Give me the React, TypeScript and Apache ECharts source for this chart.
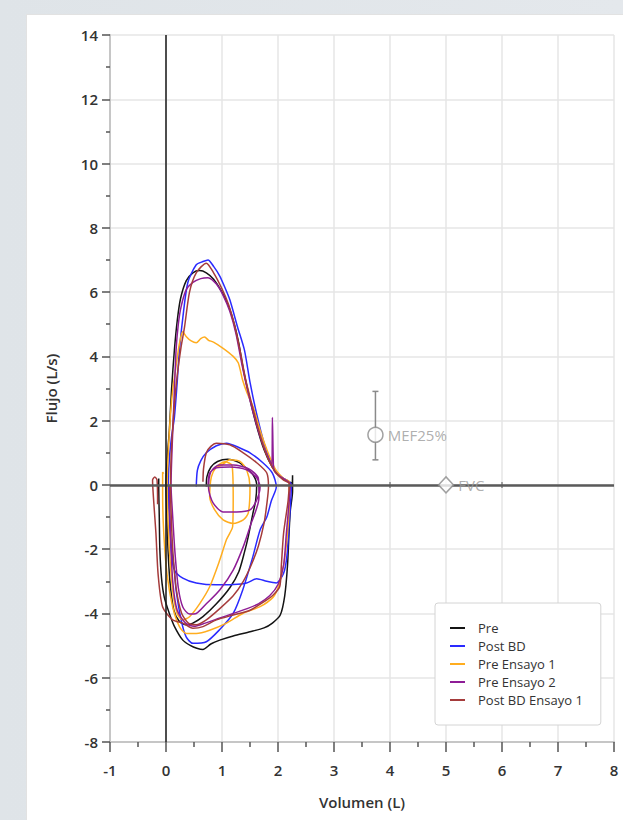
import React, { useEffect, useRef } from 'react';
import * as echarts from 'echarts';

// ---- Data (volume L, flow L/s) ----
const seriesNames = ['Pre', 'Post BD', 'Pre Ensayo 1', 'Pre Ensayo 2', 'Post BD Ensayo 1'];
const seriesColors = ['#141414', '#2a2aff', '#ffad1f', '#8e1d96', '#a53b3b'];

const preCurve = [
  [0.72, -0.05], [0.73, 0.25], [0.8, 0.55], [0.92, 0.73], [1.1, 0.8], [1.3, 0.7], [1.45, 0.5], [1.56, 0.3], [1.62, 0.02],
  [1.6, -0.5], [1.55, -0.9], [1.47, -1.6], [1.4, -2.1], [1.3, -2.7], [1.14, -3.2], [0.9, -3.7], [0.66, -4.1], [0.48, -4.3], [0.36, -4.35], [0.24, -4.25], [0.14, -3.9], [0.07, -3.0], [0.03, -1.8], [0.01, -0.6], [0.0, 0],
  [0.02, 0.8], [0.06, 1.7], [0.1, 3.0], [0.15, 4.2], [0.2, 5.1], [0.26, 5.8], [0.36, 6.35], [0.48, 6.6], [0.6, 6.67], [0.72, 6.6], [0.85, 6.4], [1.0, 6.0], [1.12, 5.55], [1.22, 5.0], [1.3, 4.4], [1.38, 3.6], [1.48, 2.8], [1.6, 1.95], [1.75, 1.1], [1.9, 0.55], [2.05, 0.25], [2.18, 0.12], [2.25, 0.05], [2.26, 0.3],
  [2.26, -0.2], [2.22, -0.8], [2.2, -1.4], [2.17, -2.5], [2.12, -3.45], [2.04, -4.05], [1.9, -4.3], [1.75, -4.45], [1.5, -4.57], [1.2, -4.7], [0.96, -4.83], [0.8, -4.95], [0.66, -5.12], [0.55, -5.08], [0.44, -5.0], [0.3, -4.83], [0.15, -4.4], [0.06, -4.0], [-0.03, -3.5], [-0.08, -2.9], [-0.11, -2.0], [-0.12, -1.0], [-0.13, 0.0], [-0.13, 0.2],
];

const postBdCurve = [
  [0.54, -0.05], [0.56, 0.45], [0.62, 0.75], [0.72, 1.0], [0.9, 1.22], [1.08, 1.3], [1.32, 1.15], [1.5, 1.0], [1.73, 0.69], [1.9, 0.37], [1.97, -0.06],
  [1.88, -0.5], [1.8, -1.0], [1.68, -1.4], [1.55, -2.24], [1.37, -3.27], [1.2, -4.0], [0.96, -4.5], [0.72, -4.88], [0.48, -4.93], [0.36, -4.73], [0.27, -4.2], [0.18, -3.27], [0.15, -2.65], [0.1, -2.0], [0.06, -1.0], [0.04, 0],
  [0.06, 0.8], [0.1, 1.5], [0.15, 2.1], [0.2, 3.2], [0.24, 4.2], [0.3, 5.2], [0.39, 6.3], [0.54, 6.85], [0.66, 6.95], [0.75, 7.0], [0.85, 6.8], [0.96, 6.5], [1.05, 6.15], [1.14, 5.76], [1.28, 4.9], [1.4, 4.2], [1.5, 3.2], [1.62, 2.2], [1.76, 1.25], [1.92, 0.55], [2.08, 0.22], [2.2, 0.1], [2.24, 0.0],
  [2.23, -0.4], [2.2, -1.2], [2.16, -2.2], [2.1, -2.75], [1.97, -3.05], [1.8, -3.0], [1.62, -2.92], [1.44, -3.05], [1.2, -3.1], [0.9, -3.11], [0.54, -3.05], [0.3, -2.9], [0.15, -2.65], [0.1, -2.2], [0.06, -1.1], [0.03, 0],
];

const preE1Curve = [
  [0.9, 0.56], [1.0, 0.62], [1.14, 0.78], [1.32, 0.73], [1.44, 0.47], [1.5, -0.06], [1.47, -0.87], [1.38, -1.09], [1.2, -1.2], [1.02, -1.09], [0.87, -0.78], [0.78, -0.37], [0.81, 0.25], [0.9, 0.56], [1.05, 0.72], [1.18, 0.6], [1.2, -0.4], [1.19, -1.3],
  [1.14, -1.5], [1.08, -1.7], [0.96, -2.34], [0.78, -3.17], [0.6, -3.7], [0.42, -4.1], [0.3, -4.2], [0.2, -4.0], [0.12, -3.3], [0.06, -2.0], [0.03, -0.8], [0.02, 0],
  [0.04, 1.0], [0.08, 2.2], [0.12, 2.96], [0.18, 3.7], [0.24, 4.4], [0.3, 4.77], [0.36, 4.62], [0.45, 4.48], [0.54, 4.42], [0.62, 4.55], [0.69, 4.6], [0.76, 4.5], [0.84, 4.45], [1.02, 4.25], [1.2, 4.0], [1.29, 3.8], [1.37, 3.25], [1.45, 2.85], [1.56, 2.4], [1.68, 1.7], [1.8, 1.1], [1.95, 0.5], [2.1, 0.2], [2.2, 0.1],
  [2.2, -0.5], [2.17, -1.5], [2.1, -2.5], [2.0, -3.2], [1.91, -3.5], [1.68, -3.79], [1.37, -4.0], [1.08, -4.3], [0.78, -4.52], [0.54, -4.62], [0.36, -4.62], [0.24, -4.41], [0.12, -3.8], [0.02, -2.8], [-0.04, -1.5], [-0.06, -0.3], [-0.06, 0.4], [-0.04, 0.35],
];

const preE2Curve = [
  [0.75, -0.06], [0.78, 0.37], [0.9, 0.53], [1.14, 0.56], [1.44, 0.47], [1.62, 0.22], [1.68, -0.06], [1.62, -0.47], [1.5, -0.78], [1.26, -0.84], [1.02, -0.84], [0.84, -0.56], [0.76, -0.1], [0.8, 0.4], [0.95, 0.62], [1.2, 0.62], [1.48, 0.5], [1.65, 0.2], [1.66, -0.4],
  [1.5, -1.3], [1.38, -1.92], [1.2, -2.65], [0.96, -3.27], [0.72, -3.7], [0.54, -4.0], [0.42, -4.02], [0.3, -3.8], [0.22, -3.2], [0.16, -2.1], [0.12, -1.0], [0.09, 0],
  [0.11, 1.2], [0.14, 2.5], [0.18, 4.2], [0.22, 5.0], [0.27, 5.55], [0.36, 6.07], [0.48, 6.3], [0.62, 6.42], [0.75, 6.45], [0.9, 6.25], [1.02, 5.9], [1.14, 5.4], [1.25, 4.7], [1.35, 3.8], [1.45, 3.0], [1.58, 2.1], [1.72, 1.3], [1.85, 0.75], [1.89, 0.6], [1.9, 2.1], [1.915, 0.8], [1.93, 0.45], [2.05, 0.25], [2.18, 0.1], [2.22, 0.0],
  [2.2, -0.5], [2.15, -1.5], [2.1, -2.5], [2.0, -3.1], [1.85, -3.45], [1.65, -3.7], [1.45, -3.85], [1.2, -4.0], [0.95, -4.15], [0.7, -4.3], [0.5, -4.4], [0.35, -4.3], [0.2, -3.9], [0.12, -3.0], [0.08, -1.5], [0.06, 0],
];

const postBdE1Curve = [
  [0.66, 0.1], [0.67, 0.5], [0.72, 1.0], [0.8, 1.2], [0.9, 1.3], [1.14, 1.25], [1.38, 1.0], [1.62, 0.69], [1.8, 0.37], [1.83, -0.06],
  [1.8, -0.6], [1.75, -1.2], [1.65, -1.9], [1.52, -2.5], [1.38, -3.0], [1.2, -3.45], [0.96, -3.85], [0.72, -4.2], [0.54, -4.35], [0.4, -4.3], [0.28, -4.0], [0.18, -3.2], [0.12, -2.0], [0.09, -0.8], [0.08, 0],
  [0.1, 1.2], [0.15, 2.5], [0.2, 3.4], [0.27, 4.3], [0.33, 4.9], [0.42, 6.0], [0.54, 6.6], [0.72, 6.9], [0.85, 6.6], [1.0, 6.1], [1.12, 5.6], [1.22, 5.0], [1.32, 4.2], [1.42, 3.3], [1.52, 2.6], [1.64, 1.8], [1.78, 1.0], [1.95, 0.4], [2.1, 0.15], [2.2, 0.05],
  [2.18, -0.5], [2.1, -1.5], [2.06, -2.5], [2.03, -3.17], [1.9, -3.45], [1.8, -3.58], [1.5, -3.9], [1.2, -4.05], [0.9, -4.2], [0.66, -4.41], [0.48, -4.46], [0.3, -4.3], [0.12, -4.2], [-0.06, -3.8], [-0.14, -2.8], [-0.18, -1.5], [-0.22, -0.5], [-0.24, 0.15], [-0.2, 0.25], [-0.16, 0.15], [-0.15, -0.6],
];

const curves = [preCurve, postBdCurve, preE1Curve, preE2Curve, postBdE1Curve];

// Reference markers
const mefName = 'MEF25%';
const mefPoint = [3.74, 1.56];
const mefRange = [0.78, 2.91];
const fvcName = 'FVC';
const fvcPoint = [5.0, 0];
const fvcRange = [4.0, 6.0];

// Axes
const xMin = -1, xMax = 8, xStep = 1;
const yMin = -8, yMax = 14, yStep = 2;

const FONT = "'Open Sans', 'DejaVu Sans', sans-serif";
const LEGEND_ICON = 'path://M0,0 L15,0 L15,2 L0,2 Z';

export default function App() {
  const ref = useRef<HTMLDivElement>(null);

  useEffect(() => {
    if (!ref.current) return;
    const chart = echarts.init(ref.current, null, { renderer: 'svg' });

    const axisLabel = { color: '#333', fontFamily: FONT, fontSize: 15, fontWeight: 600 };

    const curveSeries = curves.map((d, i) => ({
      name: seriesNames[i],
      type: 'line',
      data: d,
      showSymbol: false,
      symbol: 'none',
      smooth: 0.25,
      z: 2,
      lineStyle: { color: seriesColors[i], width: 1.5 },
      itemStyle: { color: seriesColors[i] },
      silent: true,
    }));

    const option: any = {
      animation: false,
      backgroundColor: 'transparent',
      grid: { left: 110, right: 9, top: 35, bottom: 78, containLabel: false },
      xAxis: {
        type: 'value', min: xMin, max: xMax, interval: xStep,
        name: 'Volumen (L)', nameLocation: 'middle', nameGap: 52,
        nameTextStyle: { color: '#333', fontFamily: FONT, fontSize: 15, fontWeight: 600 },
        axisLine: { show: true, onZero: false, lineStyle: { color: '#c6c6c6', width: 2 } },
        axisTick: { show: true, length: 10, lineStyle: { color: '#555', width: 1.5 } },
        minorTick: { show: true, splitNumber: 2, length: 5, lineStyle: { color: '#555', width: 1.5 } },
        axisLabel: { ...axisLabel, margin: 20 },
        splitLine: { show: true, lineStyle: { color: '#e6e6e6', width: 1.5 } },
      },
      yAxis: {
        type: 'value', min: yMin, max: yMax, interval: yStep,
        name: 'Flujo (L/s)', nameLocation: 'middle', nameGap: 52,
        nameTextStyle: { color: '#333', fontFamily: FONT, fontSize: 15, fontWeight: 600 },
        axisLine: { show: true, onZero: false, lineStyle: { color: '#c6c6c6', width: 2 } },
        axisTick: { show: true, length: 8, lineStyle: { color: '#555', width: 1.5 } },
        minorTick: { show: true, splitNumber: 2, length: 4, lineStyle: { color: '#555', width: 1.5 } },
        axisLabel: { ...axisLabel, margin: 12 },
        splitLine: { show: true, lineStyle: { color: '#e6e6e6', width: 1.5 } },
      },
      legend: {
        data: seriesNames.map((n) => ({ name: n, icon: LEGEND_ICON })),
        orient: 'vertical',
        left: 435, top: 603,
        backgroundColor: '#fff',
        borderColor: '#d4d4d4', borderWidth: 1, borderRadius: 3,
        padding: [18, 18, 18, 15],
        itemWidth: 15, itemHeight: 14, itemGap: 4,
        symbolKeepAspect: true,
        textStyle: { color: '#333', fontFamily: FONT, fontSize: 13, lineHeight: 14, padding: [0, 0, 0, 8] },
      },
      series: [
        ...curveSeries,
        {
          name: 'refLines', type: 'line', data: [], z: 3, silent: true,
          markLine: {
            silent: true, symbol: ['none', 'none'], label: { show: false },
            data: [
              { yAxis: 0, lineStyle: { color: '#5a5a5a', width: 2.5, type: 'solid' } },
              { xAxis: 0, lineStyle: { color: '#1a1a1a', width: 1.5, type: 'solid' } },
            ],
          },
        },
        {
          name: 'mefErr', type: 'custom', z: 4, silent: true,
          encode: { x: 0, y: [1, 2] },
          data: [[mefPoint[0], mefRange[0], mefRange[1]]],
          renderItem: (_p: any, api: any) => {
            const top = api.coord([api.value(0), api.value(2)]);
            const bot = api.coord([api.value(0), api.value(1)]);
            const st = { stroke: '#8a8a8a', lineWidth: 1.5 };
            return {
              type: 'group',
              children: [
                { type: 'line', shape: { x1: top[0], y1: top[1], x2: bot[0], y2: bot[1] }, style: st },
                { type: 'line', shape: { x1: top[0] - 3, y1: top[1], x2: top[0] + 3, y2: top[1] }, style: st },
                { type: 'line', shape: { x1: bot[0] - 3, y1: bot[1], x2: bot[0] + 3, y2: bot[1] }, style: st },
              ],
            };
          },
        },
        {
          name: 'fvcErr', type: 'custom', z: 4, silent: true,
          encode: { x: [0, 1], y: 2 },
          data: [[fvcRange[0], fvcRange[1], fvcPoint[1]]],
          renderItem: (_p: any, api: any) => {
            const l = api.coord([api.value(0), api.value(2)]);
            const r = api.coord([api.value(1), api.value(2)]);
            const st = { stroke: '#8a8a8a', lineWidth: 1.5 };
            return {
              type: 'group',
              children: [
                { type: 'line', shape: { x1: l[0], y1: l[1] - 3, x2: l[0], y2: l[1] + 3 }, style: st },
                { type: 'line', shape: { x1: r[0], y1: r[1] - 3, x2: r[0], y2: r[1] + 3 }, style: st },
              ],
            };
          },
        },
        {
          name: 'markers', type: 'scatter', z: 5, silent: true,
          data: [
            { name: mefName, value: mefPoint, symbol: 'circle', symbolSize: 15 },
            { name: fvcName, value: fvcPoint, symbol: 'diamond', symbolSize: [15, 16] },
          ],
          itemStyle: { color: '#fff', borderColor: '#8a8a8a', borderWidth: 1.5 },
          label: {
            show: true, position: 'right', distance: 4, formatter: '{b}',
            color: '#9a9a9a', fontFamily: FONT, fontSize: 15,
          },
        },
      ],
    };

    chart.setOption(option);
    return () => chart.dispose();
  }, []);

  return (
    <div style={{ position: 'fixed', left: 0, top: 0, width: 623, height: 820, background: 'linear-gradient(90deg, #dfe4e8, #e4e8ec)', overflow: 'hidden' }}>
      <div style={{ position: 'absolute', left: 26, top: 14, width: 600, height: 810, background: '#fff', borderLeft: '1px solid #e2e2e2', borderTop: '1px solid #e2e2e2' }} />
      <div ref={ref} style={{ position: 'absolute', left: 0, top: 0, width: 623, height: 820 }} />
    </div>
  );
}
